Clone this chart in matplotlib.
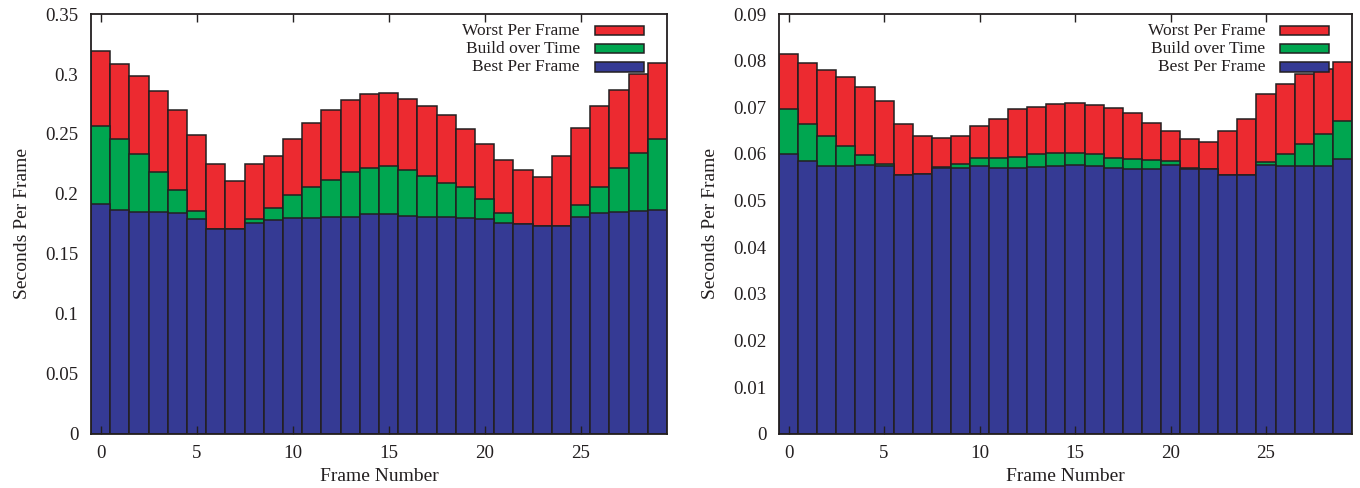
import numpy as np
import matplotlib
matplotlib.use('Agg')
from matplotlib import pyplot as plt
from matplotlib.patches import Rectangle

frames = list(range(30))

# left chart (totals per frame, seconds)
worst_a = [0.319, 0.308, 0.298, 0.286, 0.270, 0.249, 0.225, 0.211, 0.225, 0.232,
           0.246, 0.259, 0.270, 0.278, 0.283, 0.284, 0.279, 0.273, 0.266, 0.254,
           0.242, 0.228, 0.220, 0.214, 0.232, 0.255, 0.273, 0.287, 0.300, 0.309]
build_a = [0.257, 0.246, 0.233, 0.218, 0.203, 0.186, 0.171, 0.171, 0.179, 0.188,
           0.199, 0.206, 0.212, 0.218, 0.222, 0.223, 0.220, 0.215, 0.209, 0.206,
           0.196, 0.184, 0.175, 0.173, 0.173, 0.191, 0.206, 0.222, 0.234, 0.246]
best_a = [0.192, 0.187, 0.185, 0.185, 0.184, 0.179, 0.171, 0.171, 0.176, 0.178,
          0.180, 0.180, 0.181, 0.181, 0.183, 0.183, 0.182, 0.181, 0.181, 0.180,
          0.179, 0.176, 0.175, 0.173, 0.173, 0.181, 0.184, 0.185, 0.186, 0.187]

# right chart
worst_b = [0.0814, 0.0796, 0.0781, 0.0765, 0.0744, 0.0714, 0.0664, 0.0638, 0.0634, 0.0638,
           0.0659, 0.0676, 0.0697, 0.0701, 0.0708, 0.0709, 0.0704, 0.0698, 0.0687, 0.0666,
           0.0649, 0.0632, 0.0626, 0.0649, 0.0676, 0.0728, 0.0750, 0.0771, 0.0782, 0.0798]
build_b = [0.0696, 0.0665, 0.0638, 0.0617, 0.0597, 0.0579, 0.0555, 0.0557, 0.0572, 0.0578,
           0.0591, 0.0591, 0.0593, 0.0601, 0.0603, 0.0603, 0.0599, 0.0591, 0.0589, 0.0587,
           0.0586, 0.0571, 0.0568, 0.0556, 0.0556, 0.0583, 0.0601, 0.0621, 0.0642, 0.0670]
best_b = [0.0601, 0.0586, 0.0574, 0.0575, 0.0576, 0.0574, 0.0555, 0.0557, 0.0571, 0.0571,
          0.0574, 0.0571, 0.0571, 0.0573, 0.0574, 0.0576, 0.0574, 0.0570, 0.0568, 0.0568,
          0.0576, 0.0568, 0.0568, 0.0556, 0.0556, 0.0577, 0.0574, 0.0574, 0.0574, 0.0589]

labels = ['Worst Per Frame', 'Build over Time', 'Best Per Frame']
colors = ['#ec2a30', '#00a650', '#353a94']
edge = '#231f20'

plt.rcParams['font.family'] = ['Liberation Serif', 'DejaVu Serif']

fig = plt.figure(figsize=(13.6, 4.88), dpi=100)
ax1 = fig.add_axes([0.0669, 0.1107, 0.4235, 0.8606])
ax2 = fig.add_axes([0.5728, 0.1107, 0.4213, 0.8606])

def draw(ax, series, ymax, ystep, fmt):
    for vals, c in zip(series, colors):
        ax.bar(frames, vals, width=1.0, color=c, edgecolor=edge, linewidth=1.1)
    ax.set_xlim(-0.5, 29.5)
    ax.set_ylim(0, ymax)
    ax.set_xticks([0, 5, 10, 15, 20, 25])
    yt = np.arange(0, ymax + ystep / 2, ystep)
    ax.set_yticks(yt)
    ax.set_yticklabels([fmt(v) for v in yt])
    ax.tick_params(direction='in', top=True, length=6, width=1,
                   labelsize=13.6, colors='#231f20', pad=8)
    ax.tick_params(axis='y', left=False, right=False, pad=9)
    for s in ax.spines.values():
        s.set_linewidth(1.3)
        s.set_color(edge)
    ax.set_xlabel('Frame Number', fontsize=14, color='#231f20', labelpad=4)
    ax.set_ylabel('Seconds Per Frame', fontsize=14, color='#231f20', labelpad=10)
    # legend: right-aligned text followed by a sample box
    for i, (lab, c) in enumerate(zip(labels, colors)):
        y = 0.960 - i * 0.043
        ax.text(0.849, y, lab, transform=ax.transAxes, ha='right', va='center',
                fontsize=12.5, color='#231f20')
        ax.add_patch(Rectangle((0.875, y - 0.011), 0.085, 0.022, transform=ax.transAxes,
                               facecolor=c, edgecolor=edge, linewidth=1.1, zorder=5))

def fmt_a(v):
    return '0' if v == 0 else ('%.2f' % v).rstrip('0')

def fmt_b(v):
    return '0' if v == 0 else '%.2f' % v

draw(ax1, [worst_a, build_a, best_a], 0.35, 0.05, fmt_a)
draw(ax2, [worst_b, build_b, best_b], 0.09, 0.01, fmt_b)

fig.savefig('out.png', dpi=100)
